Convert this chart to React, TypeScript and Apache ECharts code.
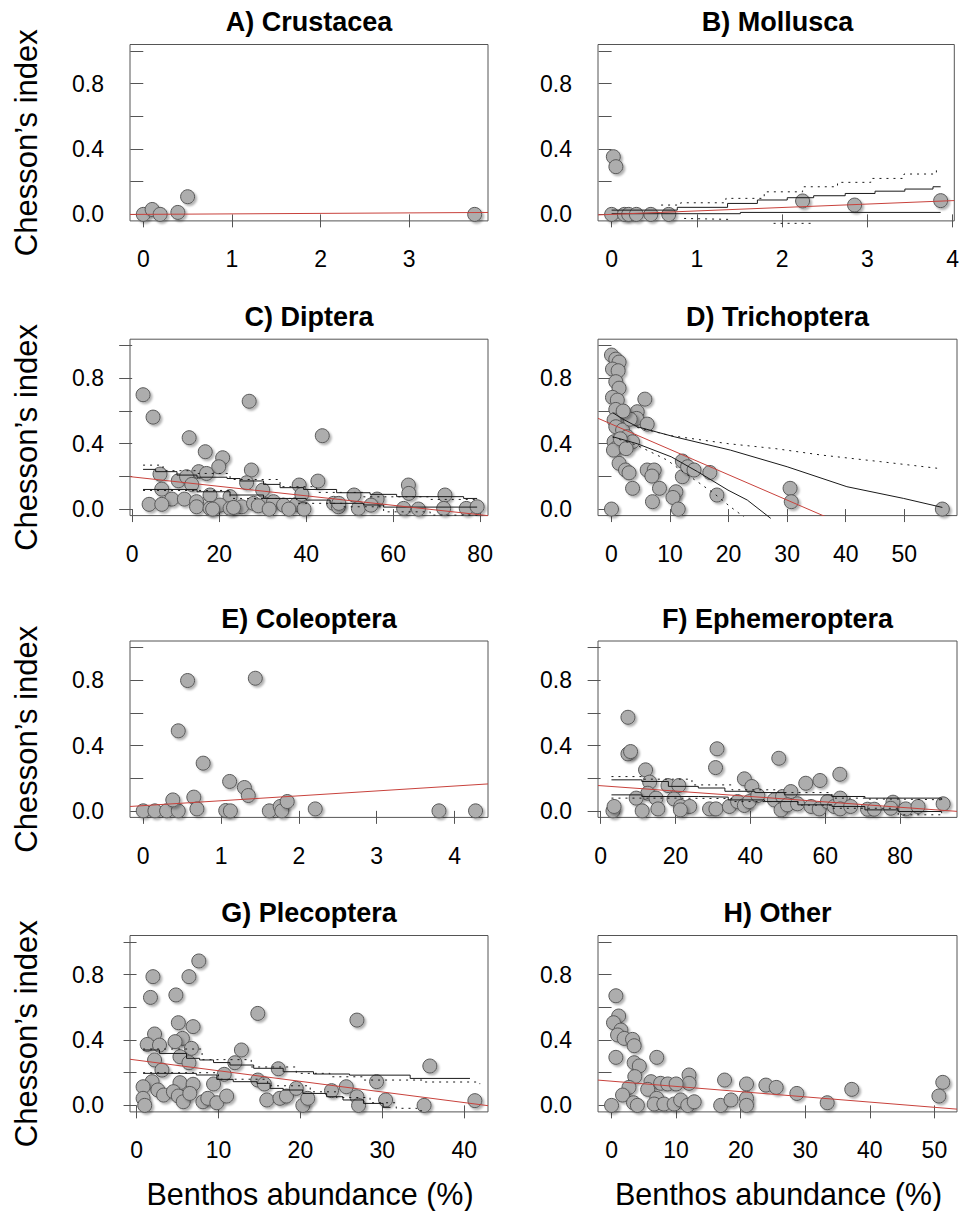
import React, { useEffect, useRef } from "react";
import * as echarts from "echarts";

const FONT = "'Liberation Sans', Arial, Helvetica, sans-serif";

const panelTitles = [
  "A) Crustacea", "B) Mollusca", "C) Diptera", "D) Trichoptera",
  "E) Coleoptera", "F) Ephemeroptera", "G) Plecoptera", "H) Other",
];
const yAxisTitle = "Chesson\u2019s index";
const xAxisTitle = "Benthos abundance (%)";

const xMins = [-0.15, -0.16, -0.5, -2.3, -0.17, -0.7, -0.8, -2.1];
const xMaxs = [3.89, 4.02, 81.8, 59.0, 4.43, 95.2, 42.9, 53.5];
const xTickValues = [
  [0, 1, 2, 3], [0, 1, 2, 3, 4], [0, 20, 40, 60, 80], [0, 10, 20, 30, 40, 50],
  [0, 1, 2, 3, 4], [0, 20, 40, 60, 80], [0, 10, 20, 30, 40], [0, 10, 20, 30, 40, 50],
];
const yMin = -0.04;
const yMax = 1.04;
const yTickValues = [0, 0.2, 0.4, 0.6, 0.8, 1.0];
const yLabelValues = [0, 0.4, 0.8];

// fitted regression lines (intercept, slope)
const fitIntercepts = [0.0, 0.0, 0.197, 0.52, 0.032, 0.154, 0.277, 0.148];
const fitSlopes = [0.003, 0.021, -0.0029, -0.0155, 0.03, -0.00165, -0.0065, -0.0032];

// A) Crustacea
const crustaceaX = [0, 0.1, 0.19, 0.39, 0.5, 3.74];
const crustaceaY = [0, 0.03, 0, 0.012, 0.108, 0];

// B) Mollusca
const molluscaX = [0.02, 0.05, 0, 0.15, 0.2, 0.29, 0.46, 0.67, 2.24, 2.85, 3.86];
const molluscaY = [0.353, 0.292, 0, 0, 0, 0, 0, 0, 0.082, 0.057, 0.084];
const molluscaUpperSolid = [[0, 0.026], [0.77, 0.043], [1.36, 0.067], [1.71, 0.088], [2.06, 0.102], [2.37, 0.114], [2.74, 0.128], [3.09, 0.142], [3.44, 0.155], [3.77, 0.169], [3.86, 0.169]];
const molluscaLowerSolid = [[0, 0.004], [1.51, 0.012], [3.86, 0.012]];
const molluscaUpperDotted = [[0.58, 0.057], [0.81, 0.071], [1.34, 0.098], [1.79, 0.138], [2.24, 0.169], [2.65, 0.196], [3.04, 0.22], [3.43, 0.247], [3.81, 0.28]];
const molluscaLowerDotted = [[0.85, -0.025], [1.4, -0.031], [1.6, "-"], [1.9, -0.055], [2.38, -0.055]];

// C) Diptera
const dipteraX = [2.5, 4.8, 26.9, 43.7, 13.1, 16.8, 20.8, 19.9, 27.4, 15.3, 6.4, 17.1, 10.6, 12.5, 13.7, 26.3, 42.7, 38.4, 63.5, 63.6, 71.9, 51, 6.8, 17.9, 30, 22.5, 56.3, 9.1, 12, 3.9, 6.8, 14.8, 14.8, 17.9, 20.2, 22.5, 25.2, 27.9, 30.9, 32.5, 34.8, 37.8, 39.5, 46.3, 47.4, 52, 54.9, 62.4, 65.8, 71.6, 76.8, 79.3, 18.5, 23.3, 29, 31.5, 36, 39, 47.5];
const dipteraY = [0.7, 0.563, 0.66, 0.449, 0.437, 0.351, 0.314, 0.259, 0.239, 0.229, 0.214, 0.218, 0.173, 0.198, 0.151, 0.161, 0.171, 0.147, 0.147, 0.096, 0.086, 0.086, 0.122, 0.086, 0.116, 0.076, 0.061, 0.061, 0.061, 0.029, 0.029, 0.045, 0.014, 0.004, 0.024, 0.004, 0.014, 0.035, 0.029, 0.045, 0.024, 0.029, 0.0, 0.035, 0.014, 0.004, 0.024, 0.004, 0.0, 0.004, 0.004, 0.014, 0.0, 0.01, 0.02, 0.0, 0.0, 0.09, 0.035];
const dipteraUpperSolid = [[2.5, 0.243], [5.4, 0.229], [10.3, 0.208], [14.9, 0.195], [21.8, 0.187], [24.8, 0.172], [30.2, 0.151], [34, 0.131], [39.4, 0.12], [47, 0.1], [54.7, 0.09], [60.8, 0.076], [76.2, 0.065], [79.3, 0.065]];
const dipteraLowerSolid = [[2.5, 0.12], [14.9, 0.106], [22.5, 0.086], [30.2, 0.065], [40, 0.055], [45.5, 0.035], [53.2, 0.025], [57.8, 0.012], [79.3, 0.012]];
const dipteraUpperDotted = [[2.5, 0.269], [7.1, 0.235], [14.9, 0.218], [22.5, 0.181], [34, 0.137], [42.4, 0.102], [53.2, 0.075], [68.5, 0.059], [79.3, 0.045]];
const dipteraLowerDotted = [[2.5, 0.114], [22.5, 0.065], [37.8, 0.035], [48.6, 0.014], [57.8, -0.017], [68.5, -0.037], [79.3, -0.047]];

// D) Trichoptera
const trichopteraX = [0, 0.74, 1.3, 0.17, 1.14, 0.74, 1.3, 0.17, 1.0, 5.7, 0.74, 4.4, 2.3, 4.3, 0.45, 6.1, 0.74, 1.9, 2.7, 3.6, 0.45, 1.0, 0.34, 1.3, 2.4, 3.0, 3.6, 6.1, 7.3, 6.9, 8.2, 7.0, 11.0, 10.5, 11.4, 12.1, 12.1, 13.0, 14.1, 16.8, 18.0, 0, 30.5, 30.7, 56.5, 1.5, 3.2, 2.5, 2.0];
const trichopteraY = [0.943, 0.918, 0.9, 0.857, 0.847, 0.78, 0.74, 0.684, 0.667, 0.673, 0.61, 0.596, 0.569, 0.555, 0.545, 0.52, 0.504, 0.484, 0.443, 0.412, 0.412, 0.38, 0.361, 0.28, 0.239, 0.222, 0.127, 0.239, 0.239, 0.202, 0.127, 0.045, 0.106, 0.071, 0.0, 0.294, 0.198, 0.259, 0.239, 0.224, 0.086, 0.0, 0.127, 0.045, 0.0, 0.43, 0.55, 0.37, 0.6];
const trichopteraUpperSolid = [[0.2, 0.59], [2, 0.55], [4.4, 0.504], [10.7, 0.443], [20.3, 0.361], [30, 0.259], [40.2, 0.137], [49.9, 0.065], [56.5, 0.01]];
const trichopteraLowerSolid = [[0.2, 0.443], [4.4, 0.4], [10.2, 0.32], [14.7, 0.229], [19.9, 0.116], [23.2, 0.055], [27.2, -0.057]];
const trichopteraUpperDotted = [[4.4, 0.5], [10, 0.45], [20, 0.4], [28, 0.37], [36, 0.33], [46, 0.29], [55.6, 0.25]];
const trichopteraLowerDotted = [[0.2, 0.44], [4.4, 0.39], [9.5, 0.3], [11.8, 0.239], [14.7, 0.167], [17.5, 0.096], [20.3, 0.014], [22.6, -0.047]];

// E) Coleoptera
const coleopteraX = [0, 0.15, 0.3, 0.45, 0.38, 0.45, 0.57, 0.77, 0.65, 0.69, 1.06, 1.12, 1.11, 1.3, 1.35, 1.44, 1.62, 1.76, 1.78, 1.85, 2.21, 3.8, 4.27];
const coleopteraY = [0, 0, 0, 0, 0.067, 0.49, 0.798, 0.292, 0.084, 0.012, 0.002, 0.0, 0.18, 0.143, 0.094, 0.812, 0, 0.027, 0, 0.057, 0.012, 0, 0];

// F) Ephemeroptera
const ephemeropteraX = [7.3, 7.3, 8.0, 31.1, 30.7, 47.6, 63.9, 54.8, 58.6, 12.0, 13.1, 38.4, 40.4, 18.0, 20.9, 12.6, 9.5, 14.8, 19.6, 21.4, 23.8, 3.3, 3.6, 11.1, 15.3, 21.3, 29.1, 30.8, 34.4, 36.6, 38.4, 39.7, 42.0, 46.4, 48.6, 50.8, 48.2, 49.9, 52.6, 56.2, 58.4, 60.6, 62.4, 64, 64, 66.8, 71.3, 73.1, 78.1, 77.5, 81.5, 84.8, 91.5];
const ephemeropteraY = [0.573, 0.349, 0.363, 0.38, 0.265, 0.322, 0.224, 0.169, 0.186, 0.251, 0.176, 0.196, 0.149, 0.155, 0.155, 0.108, 0.078, 0.078, 0.073, 0.027, 0.027, 0, 0.027, 0, 0.012, 0.006, 0.012, 0.012, 0.027, 0.057, 0.033, 0.057, 0.094, 0.067, 0.088, 0.118, 0.006, 0.037, 0.043, 0.027, 0.012, 0.057, 0.027, 0.078, 0.012, 0.027, 0.01, 0.01, 0.053, 0.016, 0.012, 0.027, 0.043];
const ephemeropteraUpperSolid = [[2.9, 0.19], [11, 0.18], [18.1, 0.15], [26.1, 0.14], [33.2, 0.12], [41.2, 0.112], [49.2, 0.098], [61.8, 0.088], [70.6, 0.078], [91.1, 0.067]];
const ephemeropteraUpperDotted = [[2.9, 0.21], [11, 0.194], [24.4, 0.159], [35.1, 0.129], [47.5, 0.112], [61.8, 0.078], [70.6, 0.072], [79.5, 0.068], [91.1, 0.057]];
const ephemeropteraLowerSolid = [[2.9, 0.098], [11, 0.088], [26.1, 0.084], [34.1, 0.067], [43.8, 0.057], [52.7, 0.037], [61.8, 0.027], [70.6, 0.006], [79.5, -0.004], [91.1, -0.014]];
const ephemeropteraLowerDotted = [[2.9, 0.078], [20, 0.075], [35.1, 0.057], [52.7, 0.035], [61.8, 0.016], [79.5, -0.024], [91.1, -0.039]];

// G) Plecoptera
const plecopteraX = [7.6, 2.0, 6.4, 1.7, 4.8, 14.8, 26.9, 5.1, 6.9, 2.2, 5.6, 4.7, 1.3, 2.8, 6.7, 12.8, 2.2, 5.3, 6.4, 12.0, 35.8, 17.3, 3.1, 10.7, 14.8, 15.6, 1.9, 5.3, 29.3, 0.8, 6.9, 9.4, 2.6, 3.3, 4.5, 5.1, 5.7, 6.5, 8.1, 8.7, 9.8, 11.0, 15.9, 17.5, 18.3, 19.5, 20.3, 20.9, 23.8, 25.6, 26.9, 27.1, 30.4, 35.1, 41.3, 0.8, 1.0];
const plecopteraY = [0.884, 0.788, 0.788, 0.661, 0.676, 0.563, 0.522, 0.506, 0.482, 0.437, 0.41, 0.39, 0.373, 0.369, 0.349, 0.339, 0.278, 0.298, 0.261, 0.261, 0.241, 0.224, 0.216, 0.19, 0.155, 0.131, 0.145, 0.139, 0.145, 0.114, 0.129, 0.131, 0.094, 0.063, 0.084, 0.057, 0.022, 0.073, 0.022, 0.043, 0.016, 0.057, 0.033, 0.043, 0.057, 0.104, 0, 0.043, 0.09, 0.114, 0.053, 0, 0.033, 0, 0.029, 0.043, 0];
const plecopteraUpperSolid = [[0.8, 0.339], [2.8, 0.318], [6.1, 0.288], [7.7, 0.278], [9.4, 0.262], [11.4, 0.247], [14.3, 0.227], [17.9, 0.206], [21.6, 0.192], [26, 0.185], [33.4, 0.165], [40.7, 0.165]];
const plecopteraUpperDotted = [[0.8, 0.345], [8, 0.28], [14, 0.235], [19.5, 0.196], [23.6, 0.175], [27.7, 0.155], [34.9, 0.143], [41.9, 0.13]];
const plecopteraLowerSolid = [[0.8, 0.196], [7.3, 0.186], [9.8, 0.159], [11.8, 0.145], [14.7, 0.135], [16.3, 0.104], [17.9, 0.094], [20.3, 0.073], [23.2, 0.053], [25.2, 0.033], [27.7, 0.012], [30.1, -0.012], [31, -0.012]];
const plecopteraLowerDotted = [[0.8, 0.2], [10, 0.16], [16, 0.12], [21.2, 0.083], [24.4, 0.048], [28.5, 0.016], [31.7, -0.018], [34.2, -0.033], [35, -0.033]];

// H) Other
const otherX = [0.67, 1.1, 0.3, 1.45, 0.93, 1.96, 3.25, 3.5, 0.67, 7.0, 3.5, 4.3, 3.6, 12.0, 12.0, 17.5, 6.1, 7.6, 8.7, 10, 2.7, 5.6, 20.9, 23.9, 25.5, 28.7, 37.2, 51.3, 50.7, 33.4, 1.7, 0, 3.4, 4.0, 7.0, 6.6, 8.1, 9.7, 10.7, 11.8, 12.8, 16.9, 18.5, 20.9, 20.9];
const otherY = [0.671, 0.547, 0.506, 0.461, 0.431, 0.41, 0.404, 0.365, 0.294, 0.294, 0.261, 0.241, 0.176, 0.186, 0.135, 0.155, 0.145, 0.135, 0.131, 0.131, 0.11, 0.098, 0.131, 0.124, 0.11, 0.073, 0.098, 0.141, 0.057, 0.016, 0.063, 0, 0.016, 0, 0.043, 0.008, 0.008, 0.008, 0.033, 0, 0.022, 0, 0.033, 0.043, 0];

type Band = { data: any[]; dotted: boolean; step: boolean };

const panelXs = [crustaceaX, molluscaX, dipteraX, trichopteraX, coleopteraX, ephemeropteraX, plecopteraX, otherX];
const panelYs = [crustaceaY, molluscaY, dipteraY, trichopteraY, coleopteraY, ephemeropteraY, plecopteraY, otherY];
const panelBands: Band[][] = [
  [],
  [
    { data: molluscaUpperSolid, dotted: false, step: true },
    { data: molluscaLowerSolid, dotted: false, step: true },
    { data: molluscaUpperDotted, dotted: true, step: true },
    { data: molluscaLowerDotted, dotted: true, step: false },
  ],
  [
    { data: dipteraUpperSolid, dotted: false, step: true },
    { data: dipteraLowerSolid, dotted: false, step: true },
    { data: dipteraUpperDotted, dotted: true, step: true },
    { data: dipteraLowerDotted, dotted: true, step: true },
  ],
  [
    { data: trichopteraUpperSolid, dotted: false, step: false },
    { data: trichopteraLowerSolid, dotted: false, step: false },
    { data: trichopteraUpperDotted, dotted: true, step: false },
    { data: trichopteraLowerDotted, dotted: true, step: false },
  ],
  [],
  [
    { data: ephemeropteraUpperSolid, dotted: false, step: true },
    { data: ephemeropteraLowerSolid, dotted: false, step: true },
    { data: ephemeropteraUpperDotted, dotted: true, step: true },
    { data: ephemeropteraLowerDotted, dotted: true, step: true },
  ],
  [
    { data: plecopteraUpperSolid, dotted: false, step: true },
    { data: plecopteraLowerSolid, dotted: false, step: true },
    { data: plecopteraUpperDotted, dotted: true, step: true },
    { data: plecopteraLowerDotted, dotted: true, step: true },
  ],
  [],
];

// layout
const colLefts = [130, 598];
const colWidths = [358, 359];
const rowTops = [44.5, 339.2, 641, 935.5];
const boxH = 176.4;

export default function App() {
  const ref = useRef<HTMLDivElement>(null);
  useEffect(() => {
    document.body.style.margin = "0";
    const chart = echarts.init(ref.current!, null, { renderer: "svg" });
    const grids: any[] = [];
    const xAxes: any[] = [];
    const yAxes: any[] = [];
    const series: any[] = [];
    const graphics: any[] = [];

    for (let i = 0; i < 8; i++) {
      const col = i % 2;
      const row = Math.floor(i / 2);
      const left = colLefts[col];
      const width = colWidths[col];
      const top = rowTops[row];
      grids.push({
        left, top, width, height: boxH,
        show: true, borderColor: "#555", borderWidth: 1, backgroundColor: "transparent",
        containLabel: false,
      });
      xAxes.push({
        type: "value", gridIndex: i, min: xMins[i], max: xMaxs[i],
        axisLine: { show: false },
        splitLine: { show: false },
        axisTick: { show: true, length: 13, lineStyle: { color: "#555", width: 1 }, customValues: xTickValues[i] },
        axisLabel: {
          show: true, customValues: xTickValues[i], margin: 27,
          fontSize: 23, color: "#000", fontFamily: FONT,
          formatter: (v: number) => String(v),
        },
      });
      yAxes.push({
        type: "value", gridIndex: i, min: yMin, max: yMax,
        axisLine: { show: false },
        splitLine: { show: false },
        axisTick: { show: true, length: 13, lineStyle: { color: "#555", width: 1 }, customValues: yTickValues },
        axisLabel: {
          show: true, customValues: yLabelValues, margin: 26,
          fontSize: 23, color: "#000", fontFamily: FONT,
          formatter: (v: number) => v.toFixed(1),
        },
      });
      const pts = panelXs[i].map((x, k) => [x, panelYs[i][k]]);
      series.push({
        type: "scatter", xAxisIndex: i, yAxisIndex: i, data: pts, z: 2,
        symbol: "circle", symbolSize: 14,
        itemStyle: {
          color: "#ADADAD", borderColor: "#585858", borderWidth: 1, opacity: 1,
          shadowColor: "rgba(0,0,0,0.3)", shadowBlur: 2, shadowOffsetX: 2, shadowOffsetY: 2,
        },
        emphasis: { disabled: true },
        silent: true,
      });
      for (const b of panelBands[i]) {
        series.push({
          type: "line", xAxisIndex: i, yAxisIndex: i, data: b.data, z: 3,
          step: b.step ? "end" : false, symbol: "none", clip: false, silent: true,
          connectNulls: false,
          lineStyle: { color: "#1a1a1a", width: 1, type: b.dotted ? [2, 5] : "solid" },
        });
      }
      const a = fitIntercepts[i];
      const s = fitSlopes[i];
      series.push({
        type: "line", xAxisIndex: i, yAxisIndex: i, z: 4,
        data: [[xMins[i], a + s * xMins[i]], [xMaxs[i], a + s * xMaxs[i]]],
        symbol: "none", clip: true, silent: true,
        lineStyle: { color: "#C8423C", width: 1 },
      });
      graphics.push({
        type: "text", x: left + width / 2, y: top - 22.5,
        style: { text: panelTitles[i], font: `bold 27px ${FONT}`, fill: "#000", align: "center", verticalAlign: "middle" },
      });
      if (col === 0) {
        graphics.push({
          type: "text", x: 26, y: top + boxH / 2 + 10, rotation: Math.PI / 2,
          style: { text: yAxisTitle, font: `31px ${FONT}`, fill: "#000", align: "center", verticalAlign: "middle" },
        });
      }
      if (row === 3) {
        graphics.push({
          type: "text", x: left + width / 2 + 1, y: 1194,
          style: { text: xAxisTitle, font: `30.5px ${FONT}`, fill: "#000", align: "center", verticalAlign: "middle" },
        });
      }
    }

    chart.setOption({
      animation: false,
      backgroundColor: "#fff",
      grid: grids,
      xAxis: xAxes,
      yAxis: yAxes,
      series,
      graphic: graphics,
    });
    return () => chart.dispose();
  }, []);
  return <div ref={ref} style={{ position: "absolute", left: 0, top: 0, width: 962, height: 1211 }} />;
}
